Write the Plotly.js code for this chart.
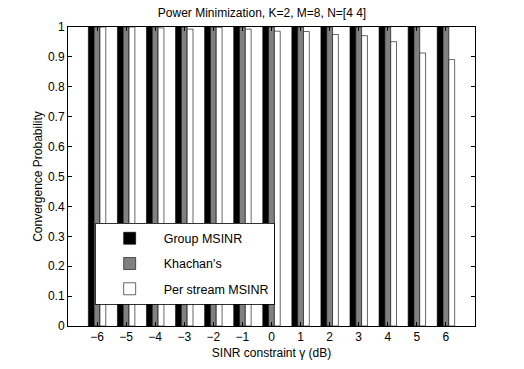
<!DOCTYPE html>
<html>
<head>
<meta charset="utf-8">
<script src="https://cdn.plot.ly/plotly-3.0.1.min.js"></script>
<style>
  html, body { margin: 0; padding: 0; background: #fff; }
  #plot { width: 524px; height: 369px; }
</style>
</head>
<body>
<div id="plot"></div>
<script>
// SINR constraint values (dB)
const sinrDb = [-6, -5, -4, -3, -2, -1, 0, 1, 2, 3, 4, 5, 6];

// Convergence probability per method
const groupMsinr = [1, 1, 1, 1, 1, 1, 1, 1, 1, 1, 1, 1, 1];
const khachan = [1, 1, 1, 1, 1, 1, 1, 1, 1, 1, 1, 1, 1];
const perStream = [1.0, 1.0, 0.997, 0.993, 0.999, 0.993, 0.986, 0.985, 0.975, 0.971, 0.951, 0.913, 0.891];

const seriesNames = ["Group MSINR", "Khachan's", "Per stream MSINR"];
const seriesColors = ["#000000", "#808080", "#ffffff"];
const seriesValues = [groupMsinr, khachan, perStream];

const traces = seriesValues.map((vals, i) => ({
  x: sinrDb,
  y: vals,
  name: seriesNames[i],
  legendgroup: "g" + i,
  type: "bar",
  marker: {
    color: seriesColors[i],
    line: { color: "#000000", width: 0.6 },
  },
}));

const layout = {
  width: 524,
  height: 369,
  paper_bgcolor: "#fff",
  plot_bgcolor: "#fff",
  font: { family: "Liberation Sans, Arial, Helvetica, sans-serif", size: 12, color: "#000" },
  barmode: "group",
  bargap: 0.4,
  bargroupgap: 0,
  showlegend: true,
  title: {
    text: "Power Minimization, K=2, M=8, N=[4 4]",
    font: { size: 12 },
    x: 0.5,
    xanchor: "center",
    y: 0.965,
    yanchor: "middle",
  },
  legend: {
    x: 0.066,
    y: 0.345,
    xanchor: "left",
    yanchor: "top",
    bgcolor: "#fff",
    bordercolor: "#000",
    borderwidth: 0.8,
    font: { size: 12.5 },
    traceorder: "grouped",
    tracegroupgap: 6,
    itemwidth: 58,
  },
  xaxis: {
    range: [-7, 7],
    tickvals: sinrDb,
    ticks: "inside",
    ticklen: 4,
    tickcolor: "#000",
    showline: true,
    linecolor: "#000",
    linewidth: 1,
    mirror: "ticks",
    showgrid: false,
    zeroline: false,
    tickfont: { size: 12 },
    title: { text: "SINR constraint γ (dB)", font: { size: 12 }, standoff: 5 },
  },
  yaxis: {
    range: [0, 1],
    dtick: 0.1,
    ticks: "inside",
    ticklen: 4,
    tickcolor: "#000",
    showline: true,
    linecolor: "#000",
    linewidth: 1,
    mirror: "ticks",
    showgrid: false,
    zeroline: false,
    tickfont: { size: 12 },
    title: { text: "Convergence Probability", font: { size: 12 }, standoff: 2 },
  },
  margin: { l: 68, r: 49, t: 27, b: 43 },
};

Plotly.newPlot("plot", traces, layout, { displayModeBar: false, staticPlot: true });
</script>
</body>
</html>
